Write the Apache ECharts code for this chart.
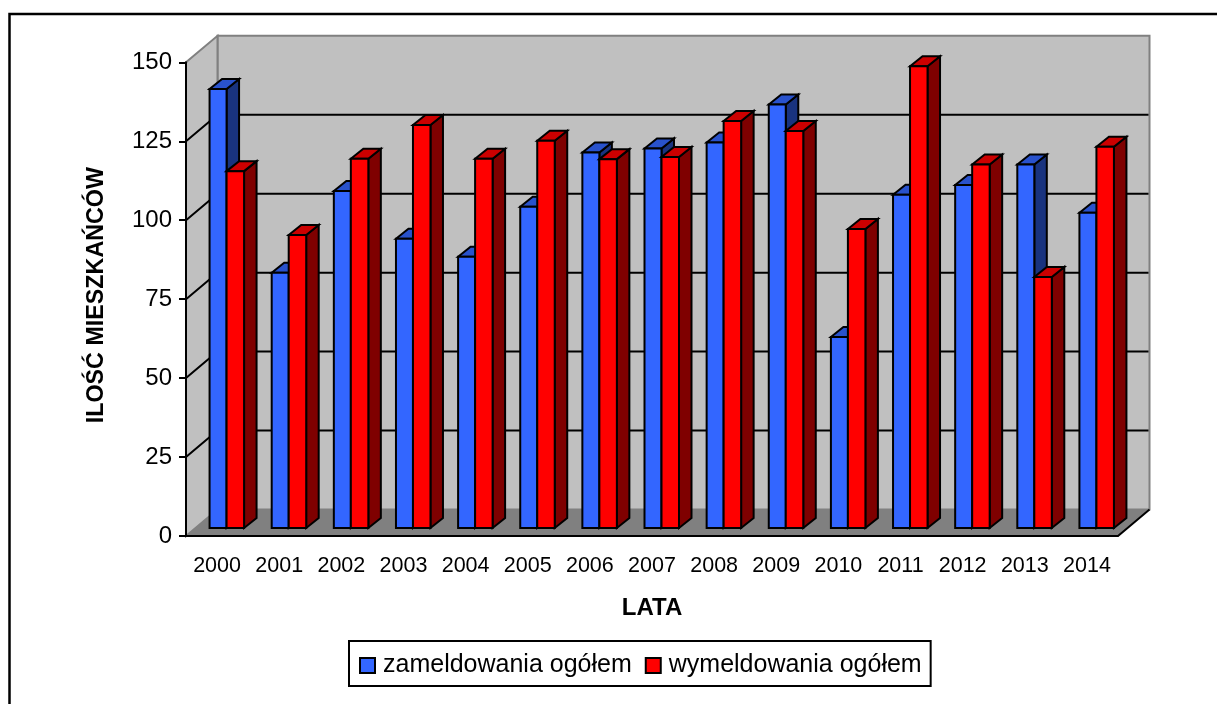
<!DOCTYPE html>
<html><head><meta charset="utf-8">
<style>html,body{margin:0;padding:0;background:#fff}#c{width:1217px;height:704px}</style>
<script src="https://cdn.jsdelivr.net/npm/echarts@6/dist/echarts.min.js"></script>
</head><body><div id="c"></div>
<script>
const years = ['2000','2001','2002','2003','2004','2005','2006','2007','2008','2009','2010','2011','2012','2013','2014'];
const zameldowania = [139,80.8,106.7,91.6,85.9,101.7,118.9,120.2,122.1,134.1,60.5,105.5,108.6,115.1,99.8];
const wymeldowania = [113,92.8,116.9,127.6,116.9,122.6,116.8,117.5,128.9,125.7,94.7,146.2,115.1,79.5,120.7];
const gridTicks = [25,50,75,100,125];
const FONT = '"Liberation Sans", Arial, sans-serif';
const DX = 31.5, DY = 26.5;          // wall depth
const BAR_DX = 12.5, BAR_DY = 10, BAR_SHIFT = 8; // bar depth and offset from the front plane

function poly(points, fill, stroke, lw){
  return {type:'polygon', shape:{points}, style:{fill, stroke:stroke||null, lineWidth:lw||0, lineJoin:'miter'}};
}
function wallsItem(params, api){
  const g = params.coordSys, x0=g.x, x1=g.x+g.width, y0=g.y, y1=g.y+g.height;
  return {type:'group', children:[
    poly([[x0+DX,y0-DY],[x1+DX,y0-DY],[x1+DX,y1-DY],[x0+DX,y1-DY]],'#c0c0c0','#808080',2),
    poly([[x0,y0],[x0+DX,y0-DY],[x0+DX,y1-DY],[x0,y1]],'#c0c0c0','#808080',2),
    poly([[x0,y1],[x0+DX,y1-DY],[x1+DX,y1-DY],[x1,y1]],'#808080'),
    {type:'line', shape:{x1:x1,y1:y1,x2:x1+DX,y2:y1-DY}, style:{stroke:'#000',lineWidth:2}}
  ]};
}
function gridItem(params, api){
  const g = params.coordSys, y = api.coord([0, api.value(0)])[1];
  return {type:'polyline', shape:{points:[[g.x,y],[g.x+DX,y-DY],[g.x+g.width+DX-1,y-DY]]},
    style:{fill:null,stroke:'#000',lineWidth:2}};
}
function barItem(left,right,colors){
  return function(params, api){
    const c = api.coord([api.value(0), api.value(1)]);
    const z = api.coord([api.value(0), 0]);
    const xl=c[0]+left, xr=c[0]+right, yt=c[1]-BAR_SHIFT, yb=z[1]-BAR_SHIFT;
    return {type:'group', children:[
      poly([[xr,yt],[xr+BAR_DX,yt-BAR_DY],[xr+BAR_DX,yb-BAR_DY],[xr,yb]],colors[2],'#000',2),
      poly([[xl,yt],[xl+BAR_DX,yt-BAR_DY],[xr+BAR_DX,yt-BAR_DY],[xr,yt]],colors[1],'#000',2),
      poly([[xl,yt],[xr,yt],[xr,yb],[xl,yb]],colors[0],'#000',2)
    ]};
  };
}
const chart = echarts.init(document.getElementById('c'));
chart.setOption({
  animation:false,
  backgroundColor:'#fff',
  textStyle:{fontFamily:FONT,color:'#000'},
  graphic:[{type:'polyline',z:100,silent:true,shape:{points:[[9.5,704],[9.5,14],[1217,14]]},style:{fill:null,stroke:'#000',lineWidth:2.5}}],
  grid:{left:186,top:62.3,width:932,height:473.7,containLabel:false},
  legend:{
    left:349,top:641,padding:[12,9,8,10],itemGap:13,itemWidth:15,itemHeight:15,
    borderColor:'#000',borderWidth:2,backgroundColor:'#fff',selectedMode:false,
    textStyle:{fontFamily:FONT,fontSize:25,color:'#000',padding:[0,0,0,3]},
    data:[
      {name:'zameldowania ogółem',icon:'rect',itemStyle:{color:'#3366ff',borderColor:'#000',borderWidth:2}},
      {name:'wymeldowania ogółem',icon:'rect',itemStyle:{color:'#ff0000',borderColor:'#000',borderWidth:2}}
    ]
  },
  xAxis:{type:'category',data:years,z:10,name:'LATA',nameLocation:'middle',nameGap:60.5,
    nameTextStyle:{fontFamily:FONT,fontSize:24,fontWeight:'bold',color:'#000'},
    axisLine:{lineStyle:{color:'#000',width:2}},axisTick:{alignWithLabel:false,length:7,lineStyle:{color:'#000',width:2}},
    axisLabel:{fontFamily:FONT,fontSize:21.5,color:'#000',margin:19,interval:0},splitLine:{show:false}},
  yAxis:{type:'value',min:0,max:150,interval:25,z:10,name:'ILOŚĆ MIESZKAŃCÓW',nameLocation:'middle',nameGap:78,
    nameTextStyle:{fontFamily:FONT,fontSize:23.3,fontWeight:'bold',color:'#000',padding:[0,0,0,8]},
    axisLine:{show:true,lineStyle:{color:'#000',width:2}},axisTick:{show:true,length:7,lineStyle:{color:'#000',width:2}},
    axisLabel:{fontFamily:FONT,fontSize:24,color:'#000',margin:14},splitLine:{show:false}},
  series:[
    {type:'custom',name:'walls',silent:true,z:1,clip:false,renderItem:wallsItem,data:[[0]],encode:{x:[],y:[]}},
    {type:'custom',name:'grid',silent:true,z:2,clip:false,renderItem:gridItem,data:gridTicks.map(v=>[v]),encode:{y:0}},
    {type:'custom',name:'zameldowania ogółem',silent:true,z:3,clip:false,itemStyle:{color:'#3366ff'},
      renderItem:barItem(-7.5,9.5,['#3366ff','#2952cc','#19337f']),
      data:zameldowania.map((v,i)=>[i,v]),encode:{x:0,y:1}},
    {type:'custom',name:'wymeldowania ogółem',silent:true,z:4,clip:false,itemStyle:{color:'#ff0000'},
      renderItem:barItem(9.5,27,['#ff0000','#cc0000','#7f0000']),
      data:wymeldowania.map((v,i)=>[i,v]),encode:{x:0,y:1}}
  ]
});
</script></body></html>
